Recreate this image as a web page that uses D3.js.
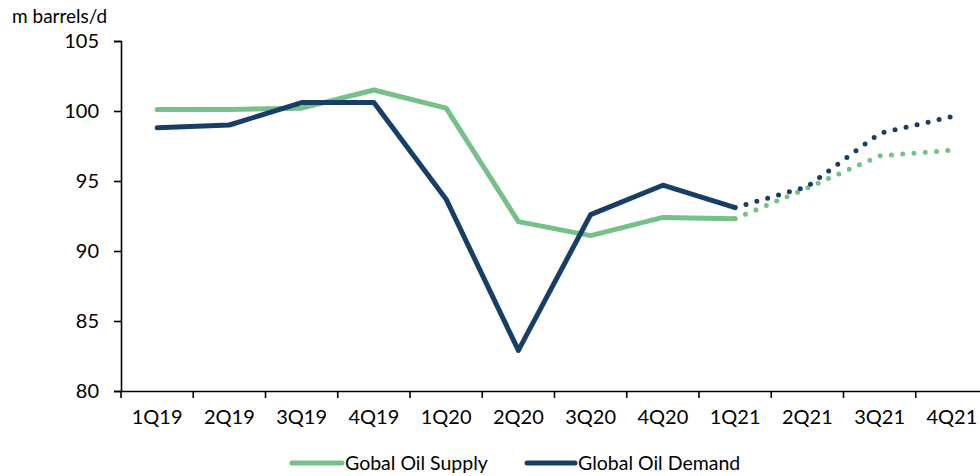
<!DOCTYPE html>
<html>
<head>
<meta charset="utf-8">
<script src="https://cdn.jsdelivr.net/npm/d3@7"></script>
<style>
  html, body { margin: 0; padding: 0; background: #fff; }
  svg { display: block; font-family: Lato, "Open Sans", sans-serif; }
</style>
</head>
<body>
<svg id="chart" width="980" height="476"></svg>
<script>
const quarters = ["1Q19","2Q19","3Q19","4Q19","1Q20","2Q20","3Q20","4Q20","1Q21","2Q21","3Q21","4Q21"];
// Actuals through 1Q21, forecast from 1Q21 onward
const supplyActual = [100.1, 100.1, 100.2, 101.5, 100.2, 92.1, 91.1, 92.4, 92.3];
const demandActual = [98.8, 99.0, 100.6, 100.6, 93.7, 82.9, 92.6, 94.7, 93.1];
const supplyForecast = [92.3, 94.5, 96.8, 97.2];
const demandForecast = [93.1, 94.6, 98.4, 99.6];
const yTicks = [80, 85, 90, 95, 100, 105];

const green = "#76c08a";
const navy = "#173f66";

const svg = d3.select("#chart");
const x = d3.scaleBand().domain(quarters).range([121, 988]);
const y = d3.scaleLinear().domain([80, 105]).range([391, 41]);
const cx = q => x(q) + x.bandwidth() / 2;

// y axis
const yAxis = svg.append("g").attr("transform", "translate(121,0)")
  .call(d3.axisLeft(y).tickValues(yTicks).tickSize(7).tickPadding(15));
// x axis
const xAxis = svg.append("g").attr("transform", "translate(0,391)")
  .call(d3.axisBottom(x).tickSize(0).tickPadding(19));
[yAxis, xAxis].forEach(g => {
  g.select(".domain").attr("stroke", "#000").attr("stroke-width", 1.6);
  g.selectAll("text").attr("font-size", 20).attr("fill", "#000")
    .attr("font-family", "Lato, 'Open Sans', sans-serif");
  g.selectAll(".tick line").attr("stroke", "#000").attr("stroke-width", 1.6);
});
// x tick marks on band boundaries
xAxis.append("g").selectAll("line")
  .data(quarters)
  .join("line")
  .attr("x1", d => x(d)).attr("x2", d => x(d))
  .attr("y1", 0).attr("y2", 7)
  .attr("stroke", "#000").attr("stroke-width", 1.6);

svg.append("text").attr("x", 12).attr("y", 23)
  .attr("font-size", 19).attr("fill", "#000").text("m barrels/d");

const line = d3.line().x(d => cx(d.q)).y(d => y(d.v));
const actual = arr => arr.map((v, i) => ({ q: quarters[i], v }));
const forecast = arr => arr.map((v, i) => ({ q: quarters[8 + i], v }));

// dotted forecasts
[[supplyForecast, green], [demandForecast, navy]].forEach(([arr, c]) => {
  svg.append("path").datum(forecast(arr)).attr("d", line)
    .attr("fill", "none").attr("stroke", c).attr("stroke-width", 5)
    .attr("stroke-linecap", "round").attr("stroke-dasharray", "0 11.3")
    .attr("stroke-dashoffset", -11.3);
});
// solid actuals
[[supplyActual, green], [demandActual, navy]].forEach(([arr, c]) => {
  svg.append("path").datum(actual(arr)).attr("d", line)
    .attr("fill", "none").attr("stroke", c).attr("stroke-width", 5)
    .attr("stroke-linejoin", "round").attr("stroke-linecap", "round");
});

// legend
const legend = [
  { label: "Gobal Oil Supply", color: green, x0: 292, x1: 342 },
  { label: "Global Oil Demand", color: navy, x0: 527, x1: 575 }
];
const lg = svg.append("g");
legend.forEach(d => {
  lg.append("line").attr("x1", d.x0).attr("x2", d.x1).attr("y1", 463).attr("y2", 463)
    .attr("stroke", d.color).attr("stroke-width", 5).attr("stroke-linecap", "round");
  lg.append("text").attr("x", d.x1 + 3).attr("y", 470)
    .attr("font-size", 19.5).attr("fill", "#000").text(d.label);
});
</script>
</body>
</html>
